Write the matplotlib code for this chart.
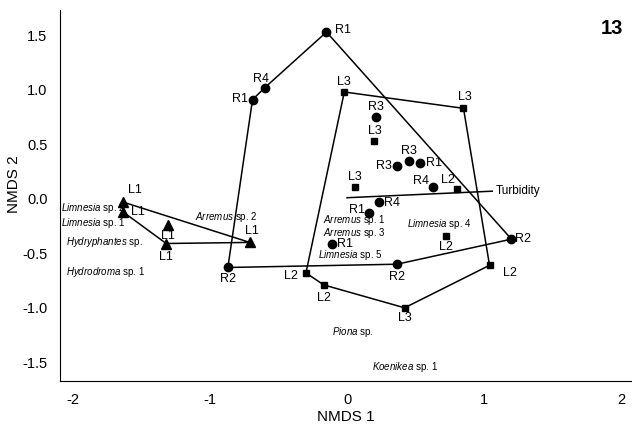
import numpy as np
import matplotlib
matplotlib.use("Agg")
import matplotlib.pyplot as plt

plt.rcParams['font.family'] = ['Liberation Sans', 'DejaVu Sans']
plt.rcParams['mathtext.fontset'] = 'custom'
plt.rcParams['mathtext.rm'] = 'Liberation Sans'
plt.rcParams['mathtext.it'] = 'Liberation Sans:italic'

# L1 sites (triangles)
tri_x = [-1.635, -1.635, -1.31, -1.32, -0.71]
tri_y = [-0.03, -0.12, -0.24, -0.41, -0.40]
tri_lab = ['L1', 'L1', 'L1', 'L1', 'L1']
tri_hull = [0, 4, 3, 1, 0]

# R sites (circles)
circ_x = [-0.15, -0.60, -0.69, -0.87, 1.20, 0.365, 0.21, 0.45, 0.365, 0.53, 0.63, 0.235, 0.16, -0.11]
circ_y = [1.53, 1.02, 0.91, -0.63, -0.37, -0.60, 0.75, 0.35, 0.30, 0.33, 0.11, -0.03, -0.13, -0.41]
circ_lab = ['R1', 'R4', 'R1', 'R2', 'R2', 'R2', 'R3', 'R3', 'R3', 'R1', 'R4', 'R4', 'R1', 'R1']
circ_hull = [0, 1, 2, 3, 5, 4, 0]

# L2 / L3 sites (squares)
sq_x = [-0.02, 0.85, 0.20, 0.06, 0.80, 0.72, 1.04, 0.42, -0.17, -0.30]
sq_y = [0.98, 0.83, 0.53, 0.11, 0.09, -0.34, -0.61, -1.00, -0.79, -0.68]
sq_lab = ['L3', 'L3', 'L3', 'L3', 'L2', 'L2', 'L2', 'L3', 'L2', 'L2']
sq_hull = [0, 1, 6, 7, 8, 9, 0]

# environmental vector
turb_x = [0.0, 1.06]
turb_y = [0.01, 0.07]

# species scores
species = [('Limnesia', 'sp. 2'), ('Limnesia', 'sp. 1'), ('Hydryphantes', 'sp.'),
           ('Hydrodroma', 'sp. 1'), ('Arremus', 'sp. 2'), ('Arremus', 'sp. 1'),
           ('Arremus', 'sp. 3'), ('Limnesia', 'sp. 5'), ('Limnesia', 'sp. 4'),
           ('Piona', 'sp.'), ('Koenikea', 'sp. 1')]
sp_x = [-1.85, -1.85, -1.77, -1.76, -0.88, 0.05, 0.05, 0.02, 0.67, 0.04, 0.42]
sp_y = [-0.08, -0.22, -0.40, -0.67, -0.17, -0.195, -0.315, -0.52, -0.23, -1.22, -1.54]

fig = plt.figure(figsize=(6.32, 4.26), dpi=100)
ax = fig.add_axes([0.095, 0.106, 0.905, 0.871])

lw = 1.1
for xs, ys, hull in [(tri_x, tri_y, tri_hull), (circ_x, circ_y, circ_hull), (sq_x, sq_y, sq_hull)]:
    ax.plot([xs[i] for i in hull], [ys[i] for i in hull], color='black', lw=lw, zorder=2)

ax.plot(turb_x, turb_y, color='black', lw=lw, zorder=2)
ax.annotate('Turbidity', (turb_x[1], turb_y[1]), xytext=(4, 0), textcoords='offset pixels',
            ha='left', va='center', fontsize=8.5)

ax.plot(tri_x, tri_y, '^', color='black', ms=7.5, zorder=3)
ax.plot(circ_x, circ_y, 'o', color='black', ms=6, zorder=3)
ax.plot(sq_x, sq_y, 's', color='black', ms=5, zorder=3)

# label offsets (pixels) and alignment
tri_off = [(12, 12, 'center'), (8, 0, 'left'), (0, -11, 'center'), (0, -13, 'center'), (2, 11, 'center')]
circ_off = [(9, 2, 'left'), (-4, 9, 'center'), (-5, 1, 'right'), (0, -12, 'center'), (4, 0, 'left'),
            (0, -13, 'center'), (0, 10, 'center'), (0, 10, 'center'), (-5, 0, 'right'), (6, 0, 'left'),
            (-4, 6, 'right'), (5, -1, 'left'), (-4, 3, 'right'), (5, 0, 'left')]
sq_off = [(0, 10, 'center'), (1, 11, 'center'), (0, 10, 'center'), (0, 10, 'center'), (-9, 9, 'center'),
          (0, -11, 'center'), (20, -8, 'center'), (0, -10, 'center'), (0, -13, 'center'), (-8, -3, 'right')]

for xs, ys, labs, offs in [(tri_x, tri_y, tri_lab, tri_off), (circ_x, circ_y, circ_lab, circ_off),
                           (sq_x, sq_y, sq_lab, sq_off)]:
    for x, y, lab, (dx, dy, ha) in zip(xs, ys, labs, offs):
        ax.annotate(lab, (x, y), xytext=(dx, dy), textcoords='offset pixels',
                    ha=ha, va='center', fontsize=9)

for (genus, rest), x, y in zip(species, sp_x, sp_y):
    ax.text(x, y, r'$\mathit{' + genus + '}$ ' + rest, ha='center', va='center', fontsize=7)

ax.text(0.985, 0.975, '13', transform=ax.transAxes, ha='right', va='top',
        fontsize=14.5, fontweight='bold')

ax.set_xlim(-2.095, 2.08)
ax.set_ylim(-1.67, 1.734)
ax.set_xticks([-2, -1, 0, 1, 2])
ax.set_xticklabels(['-2', '-1', '0', '1', '2'])
ax.set_yticks([-1.5, -1.0, -0.5, 0.0, 0.5, 1.0, 1.5])
ax.set_yticklabels(['-1.5', '-1.0', '-0.5', '0.0', '0.5', '1.0', '1.5'])
ax.tick_params(length=0, labelsize=10.5, pad=9)
ax.spines['top'].set_visible(False)
ax.spines['right'].set_visible(False)
ax.set_xlabel('NMDS 1', fontsize=11, labelpad=2)
ax.set_ylabel('NMDS 2', fontsize=11)
ax.yaxis.set_label_coords(-0.068, 0.53)

fig.savefig('out.png', dpi=100)
